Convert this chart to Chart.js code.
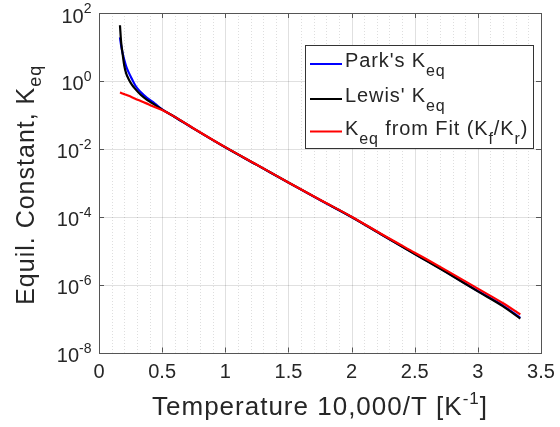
<!DOCTYPE html>
<html>
<head>
<meta charset="utf-8">
<style>
  html, body { margin: 0; padding: 0; background: #fff; }
  canvas { display: block; }
</style>
<script src="https://cdn.jsdelivr.net/npm/chart.js@4.4.1/dist/chart.umd.min.js"></script>
</head>
<body>
<canvas id="keq" width="560" height="427"></canvas>
<script>
// 10,000/T values shared by all three curves
const invT = [0.166, 0.175, 0.185, 0.2, 0.215, 0.235, 0.26, 0.29, 0.33, 0.38, 0.44, 0.5,
              0.6, 0.75, 1.0, 1.25, 1.5, 1.75, 2.0, 2.25, 2.5, 2.75, 3.0, 3.2, 3.336];

const parkK  = [19.1, 11.2, 7.08, 4.17, 2.69, 1.78, 1.15, 0.708, 0.468, 0.316, 0.219, 0.145,
                0.0865, 0.0392, 0.0110, 3.36e-3, 1.01e-3, 3.12e-4, 9.8e-5, 2.8e-5, 8.1e-6,
                2.35e-6, 6.46e-7, 2.40e-7, 1.05e-7];
const lewisK = [43.7, 14.1, 7.08, 2.82, 1.66, 1.12, 0.776, 0.562, 0.389, 0.275, 0.200, 0.143,
                0.0865, 0.0393, 0.0111, 3.37e-3, 1.015e-3, 3.13e-4, 9.85e-5, 2.8e-5, 8.0e-6,
                2.3e-6, 6.31e-7, 2.29e-7, 1.0e-7];
const fitK   = [0.457, 0.442, 0.427, 0.407, 0.389, 0.363, 0.331, 0.295, 0.257, 0.214, 0.170, 0.138,
                0.0871, 0.0398, 0.0112, 3.39e-3, 1.02e-3, 3.16e-4, 1.0e-4, 2.88e-5, 8.71e-6,
                2.63e-6, 7.59e-7, 2.82e-7, 1.32e-7];

const xTicks = [0, 0.5, 1, 1.5, 2, 2.5, 3, 3.5];
const xTickLabels = ["0", "0.5", "1", "1.5", "2", "2.5", "3", "3.5"];
const yExps = [2, 0, -2, -4, -6, -8];

const FONT = '"Liberation Sans", Arial, Helvetica, sans-serif';
const TXT = "#262626";

function pts(ys) {
    return invT.map((x, i) => ({ x: x, y: ys[i] }));
}

// draws a run of [text, size, dy] pieces, returns total width
function pieces(ctx, list, x, y, draw, spacing) {
    let w = 0;
    if ("letterSpacing" in ctx) ctx.letterSpacing = (spacing || 0) + "px";
    list.forEach((p) => {
        ctx.font = p[1] + "px " + FONT;
        if (draw) ctx.fillText(p[0], x + w, y + (p[2] || 0));
        w += ctx.measureText(p[0]).width;
    });
    if ("letterSpacing" in ctx) ctx.letterSpacing = "0px";
    return w;
}

const decor = {
    id: "decor",
    beforeDatasetsDraw(chart) {
        const ctx = chart.ctx;
        const a = chart.chartArea;
        const xs = chart.scales.x, ys = chart.scales.y;
        ctx.save();
        // minor dotted x grid
        ctx.strokeStyle = "rgba(0,0,0,0.13)";
        ctx.lineWidth = 1;
        ctx.setLineDash([1, 2]);
        for (let i = 1; i < 35; i++) {
            if (i % 5 === 0) continue;
            const px = Math.round(xs.getPixelForValue(i / 10)) + 0.5;
            ctx.beginPath(); ctx.moveTo(px, a.top); ctx.lineTo(px, a.bottom); ctx.stroke();
        }
        ctx.setLineDash([]);
        ctx.strokeStyle = "rgba(0,0,0,0.12)";
        xTicks.forEach((v) => {
            const px = Math.round(xs.getPixelForValue(v)) + 0.5;
            ctx.beginPath(); ctx.moveTo(px, a.top); ctx.lineTo(px, a.bottom); ctx.stroke();
        });
        yExps.forEach((e) => {
            const py = Math.round(ys.getPixelForValue(Math.pow(10, e))) + 0.5;
            ctx.beginPath(); ctx.moveTo(a.left, py); ctx.lineTo(a.right, py); ctx.stroke();
        });
        ctx.restore();
    },
    afterDraw(chart) {
        const ctx = chart.ctx;
        const a = chart.chartArea;
        const xs = chart.scales.x, ys = chart.scales.y;
        ctx.save();
        // box and inward ticks
        ctx.strokeStyle = "#555";
        ctx.lineWidth = 1;
        ctx.strokeRect(Math.round(a.left) + 0.5, Math.round(a.top) + 0.5,
                       Math.round(a.right - a.left), Math.round(a.bottom - a.top));
        ctx.beginPath();
        xTicks.forEach((v) => {
            const px = Math.round(xs.getPixelForValue(v)) + 0.5;
            ctx.moveTo(px, a.bottom); ctx.lineTo(px, a.bottom - 5);
            ctx.moveTo(px, a.top); ctx.lineTo(px, a.top + 5);
        });
        yExps.forEach((e) => {
            const py = Math.round(ys.getPixelForValue(Math.pow(10, e))) + 0.5;
            ctx.moveTo(a.left, py); ctx.lineTo(a.left + 5, py);
            ctx.moveTo(a.right, py); ctx.lineTo(a.right - 5, py);
        });
        ctx.stroke();

        ctx.fillStyle = TXT;
        ctx.textBaseline = "alphabetic";
        // x tick labels
        ctx.font = "20px " + FONT;
        ctx.textAlign = "center";
        xTicks.forEach((v, i) => {
            ctx.fillText(xTickLabels[i], xs.getPixelForValue(v), 378);
        });
        // y tick labels 10^n
        ctx.textAlign = "left";
        yExps.forEach((e) => {
            const py = ys.getPixelForValue(Math.pow(10, e));
            const list = [["10", 20, 0], [String(e), 14, -9.5]];
            const w = pieces(ctx, list, 0, 0, false);
            pieces(ctx, list, 91.5 - w, py + 9.5, true);
        });

        // x title
        const xt = [["Temperature 10,000/T [K", 26, 0], ["-1", 17, -11], ["]", 26, 0]];
        const xw = pieces(ctx, xt, 0, 0, false, 1);
        pieces(ctx, xt, (a.left + a.right) / 2 - xw / 2, 415, true, 1);

        // y title (rotated)
        ctx.save();
        ctx.translate(33.5, (a.top + a.bottom) / 2 + 2);
        ctx.rotate(-Math.PI / 2);
        const yt = [["Equil. Constant, K", 25, 0], ["eq", 18, 7]];
        const yw = pieces(ctx, yt, 0, 0, false, 1);
        pieces(ctx, yt, -yw / 2, 0, true, 1);
        ctx.restore();

        // legend
        ctx.fillStyle = "#fff";
        ctx.fillRect(305, 45, 228, 103);
        ctx.strokeStyle = "#333";
        ctx.strokeRect(305.5, 45.5, 228, 103);
        const rows = [
            { color: "#0000ff", y: 64, txt: [["Park's K", 20, 0], ["eq", 16, 9]] },
            { color: "#000000", y: 99, txt: [["Lewis' K", 20, 0], ["eq", 16, 9]] },
            { color: "#ff0000", y: 131.5, txt: [["K", 20, 0], ["eq", 16, 9], [" from Fit (K", 20, 0],
                                               ["f", 16, 9], ["/K", 20, 0], ["r", 16, 9], [")", 20, 0]] }
        ];
        rows.forEach((r) => {
            ctx.strokeStyle = r.color;
            ctx.lineWidth = 2;
            ctx.beginPath(); ctx.moveTo(310, r.y); ctx.lineTo(342, r.y); ctx.stroke();
            ctx.fillStyle = TXT;
            pieces(ctx, r.txt, 345, r.y + 3, true, 0.9);
        });
        ctx.restore();
    }
};

new Chart(document.getElementById("keq"), {
    type: "scatter",
    data: {
        datasets: [
            { label: "Park's Keq", data: pts(parkK), borderColor: "#0000ff", order: 3 },
            { label: "Lewis' Keq", data: pts(lewisK), borderColor: "#000000", order: 2 },
            { label: "Keq from Fit (Kf/Kr)", data: pts(fitK), borderColor: "#ff0000", order: 1 }
        ]
    },
    options: {
        responsive: false,
        animation: false,
        showLine: true,
        elements: {
            point: { radius: 0 },
            line: { borderWidth: 2.2, tension: 0.3, cubicInterpolationMode: "monotone" }
        },
        layout: { padding: { left: 99, top: 13, right: 19, bottom: 74.5 } },
        plugins: { legend: { display: false }, tooltip: { enabled: false } },
        scales: {
            x: { type: "linear", min: 0, max: 3.5, display: false },
            y: { type: "logarithmic", min: 1e-8, max: 1e2, display: false }
        }
    },
    plugins: [decor]
});
</script>
</body>
</html>
